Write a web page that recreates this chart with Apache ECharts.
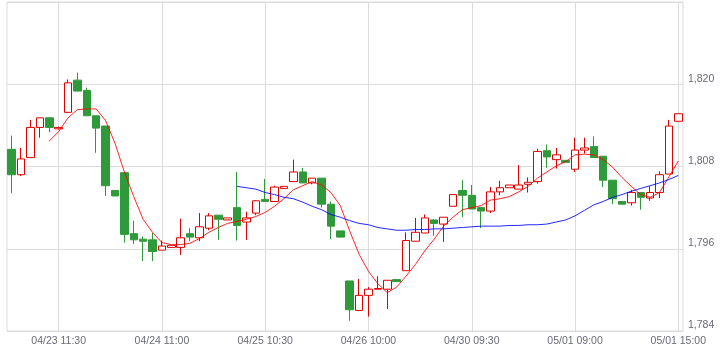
<!DOCTYPE html>
<html><head><meta charset="utf-8">
<script src="https://cdn.jsdelivr.net/npm/echarts@6/dist/echarts.min.js"></script>
<style>html,body{margin:0;padding:0;background:#fff}#c{width:724px;height:357px}</style>
</head><body><div id="c"></div>
<script>
// trading days and 30-minute bar start times
const days = ['04/23', '04/24', '04/25', '04/26', '04/30', '05/01'];
const times = ['09:00', '09:30', '10:00', '10:30', '11:00', '11:30', '12:30', '13:00', '13:30', '14:00', '14:30', '15:00'];

const opens = [
  1810.5, 1806.8, 1809.3, 1813.7, 1815.1, 1813.5, 1815.9, 1820.6, 1819.1, 1815.4, 1813.9, 1804.5,
  1807.1, 1798.2, 1797.4, 1797.3, 1795.8, 1796.2, 1796.2, 1798.2, 1797.6, 1799.0, 1800.9, 1800.2,
  1802.0, 1799.9, 1801.2, 1803.2, 1802.9, 1804.8, 1805.8, 1807.2, 1805.6, 1806.3, 1802.5, 1798.6,
  1791.3, 1787.0, 1789.2, 1790.1, 1790.1, 1791.5, 1792.8, 1797.1, 1798.3, 1800.2, 1799.6, 1802.2,
  1804.5, 1803.8, 1802.0, 1801.5, 1804.3, 1804.9, 1804.7, 1805.4, 1805.8, 1810.3, 1809.0, 1808.9,
  1807.6, 1810.4, 1810.9, 1809.5, 1806.0, 1802.9, 1802.7, 1804.2, 1803.4, 1804.2, 1806.9, 1814.6
];
const closes = [
  1806.8, 1809.1, 1813.7, 1815.1, 1813.7, 1813.7, 1820.2, 1819.0, 1815.4, 1813.6, 1805.2, 1803.7,
  1798.1, 1797.3, 1797.1, 1795.6, 1796.4, 1796.5, 1797.6, 1797.7, 1799.2, 1800.8, 1800.3, 1800.5,
  1799.4, 1800.5, 1803.0, 1802.9, 1805.0, 1805.1, 1807.2, 1805.6, 1806.3, 1802.5, 1799.3, 1797.7,
  1787.1, 1789.2, 1790.1, 1790.2, 1791.4, 1791.2, 1797.2, 1798.4, 1800.5, 1799.7, 1800.6, 1803.9,
  1803.8, 1801.8, 1801.5, 1804.3, 1804.9, 1805.3, 1805.3, 1805.7, 1810.2, 1809.4, 1809.7, 1808.6,
  1810.4, 1810.7, 1809.3, 1806.0, 1803.3, 1802.5, 1804.2, 1803.5, 1804.2, 1806.8, 1813.9, 1815.7
];
const lows = [
  1804.1, 1806.6, 1809.3, 1812.2, 1813.0, 1813.4, 1815.9, 1819.0, 1815.4, 1810.0, 1803.7, 1803.7,
  1796.9, 1796.7, 1794.2, 1794.2, 1795.8, 1796.2, 1795.1, 1797.1, 1797.1, 1798.7, 1797.3, 1800.2,
  1797.2, 1797.3, 1800.9, 1802.9, 1802.9, 1804.8, 1805.8, 1805.6, 1805.4, 1802.0, 1797.4, 1797.7,
  1785.5, 1786.9, 1786.1, 1790.1, 1787.2, 1791.2, 1792.8, 1797.1, 1798.3, 1797.9, 1797.0, 1802.2,
  1800.6, 1801.8, 1799.0, 1801.2, 1803.8, 1804.9, 1804.7, 1804.2, 1805.5, 1807.8, 1807.7, 1808.6,
  1807.2, 1809.9, 1809.3, 1805.0, 1802.5, 1802.5, 1802.3, 1801.7, 1803.0, 1803.4, 1806.9, 1814.6
];
const highs = [
  1812.5, 1810.7, 1814.8, 1815.1, 1815.1, 1813.8, 1820.7, 1821.7, 1819.5, 1815.4, 1813.9, 1804.5,
  1807.1, 1800.1, 1797.8, 1798.3, 1797.2, 1796.5, 1800.4, 1799.0, 1801.2, 1801.2, 1800.9, 1800.5,
  1807.2, 1801.4, 1803.1, 1806.2, 1805.2, 1805.1, 1809.0, 1807.8, 1806.3, 1806.3, 1802.9, 1798.6,
  1791.3, 1791.6, 1790.4, 1792.0, 1791.4, 1791.5, 1798.4, 1800.5, 1801.0, 1800.3, 1800.6, 1803.9,
  1806.0, 1805.3, 1802.0, 1805.0, 1805.9, 1805.3, 1808.2, 1806.4, 1810.6, 1811.2, 1810.7, 1808.9,
  1812.2, 1812.2, 1812.4, 1809.5, 1806.0, 1802.9, 1804.6, 1804.2, 1805.1, 1807.3, 1814.8, 1815.7
];
// red short moving average line
const maShort = [
  null, null, null, null, 1811.7, 1813.1, 1815.1, 1816.3, 1816.4, 1816.4, 1814.7, 1811.4,
  1807.2, 1803.6, 1800.3, 1798.4, 1796.9, 1796.6, 1796.6, 1796.8, 1797.5, 1798.4, 1799.1, 1799.7,
  1800.0, 1800.3, 1800.7, 1801.3, 1802.2, 1803.3, 1804.6, 1805.2, 1805.8, 1805.3, 1804.2, 1802.3,
  1798.6, 1795.2, 1792.7, 1790.9, 1789.6, 1790.4, 1792.0, 1793.7, 1795.7, 1797.4, 1799.3, 1800.6,
  1801.7, 1802.0, 1802.3, 1803.1, 1803.3, 1803.6, 1804.3, 1805.1, 1806.3, 1807.2, 1808.1, 1808.7,
  1809.7, 1809.8, 1809.7, 1809.0, 1807.9, 1806.4, 1805.1, 1803.9, 1803.5, 1804.2, 1806.5, 1808.8
];
// blue long moving average line
const maLong = [
  null, null, null, null, null, null, null, null, null, null, null, null,
  null, null, null, null, null, null, null, null, null, null, null, null,
  1805.1, 1804.9, 1804.7, 1804.2, 1803.9, 1803.5, 1803.3, 1802.8, 1802.2, 1801.7, 1801.0, 1800.6,
  1800.1, 1799.7, 1799.5, 1799.1, 1798.9, 1798.7, 1798.7, 1798.8, 1798.8, 1798.9, 1798.9, 1799.0,
  1799.1, 1799.2, 1799.3, 1799.3, 1799.3, 1799.4, 1799.4, 1799.5, 1799.5, 1799.6, 1799.9, 1800.2,
  1800.8, 1801.6, 1802.4, 1802.9, 1803.5, 1803.9, 1804.4, 1804.8, 1805.2, 1805.6, 1806.1, 1806.7
];
const yMin = 1784, yMax = 1832, yStep = 12;
const firstLabelIndex = 5, labelEvery = 11;

const categories = [];
days.forEach(d => times.forEach(t => categories.push(d + ' ' + t)));
const candles = opens.map((o, i) => [o, closes[i], lows[i], highs[i]]);

const RED = '#e00000', GREEN = '#2e9a3a', GRID = '#dcdcdc', TXT = '#6a6a78';
const FONT = 'Liberation Sans';
const showIdx = (idx) => idx >= firstLabelIndex && (idx - firstLabelIndex) % labelEvery === 0;
const fmt = v => { const s = String(Math.round(v)); return s.length > 3 ? s.slice(0, s.length - 3) + ',' + s.slice(-3) : s; };

const chart = echarts.init(document.getElementById('c'), null, { renderer: 'canvas' });
chart.setOption({
  animation: false,
  backgroundColor: '#fff',
  grid: { left: 7, right: 41, top: 2, bottom: 26, show: true, borderColor: GRID, borderWidth: 1 },
  xAxis: {
    type: 'category', data: categories, boundaryGap: true,
    axisLine: { show: false }, axisTick: { show: false },
    axisLabel: { interval: showIdx, color: TXT, fontSize: 10.5, fontFamily: FONT, margin: 5,
      formatter: v => v },
    splitLine: { show: true, interval: showIdx, alignWithLabel: true, lineStyle: { color: GRID, width: 1 } }
  },
  yAxis: {
    type: 'value', position: 'right', min: yMin, max: yMax, interval: yStep, scale: true,
    axisLine: { show: false }, axisTick: { show: false },
    axisLabel: { color: TXT, fontSize: 10.5, fontFamily: FONT, margin: 5, verticalAlign: 'bottom',
      showMaxLabel: false, formatter: fmt },
    splitLine: { show: true, lineStyle: { color: GRID, width: 1 } }
  },
  series: [
    {
      type: 'candlestick', data: candles, barWidth: 8,
      itemStyle: { color: '#ffffff', color0: GREEN, borderColor: RED, borderColor0: GREEN, borderWidth: 1 }
    },
    { type: 'line', data: maShort, symbol: 'none', lineStyle: { color: '#ff0000', width: 1, opacity: 0.85 }, connectNulls: false },
    { type: 'line', data: maLong, symbol: 'none', lineStyle: { color: '#0000ff', width: 1, opacity: 0.85 }, connectNulls: false }
  ]
});
</script>
</body></html>
